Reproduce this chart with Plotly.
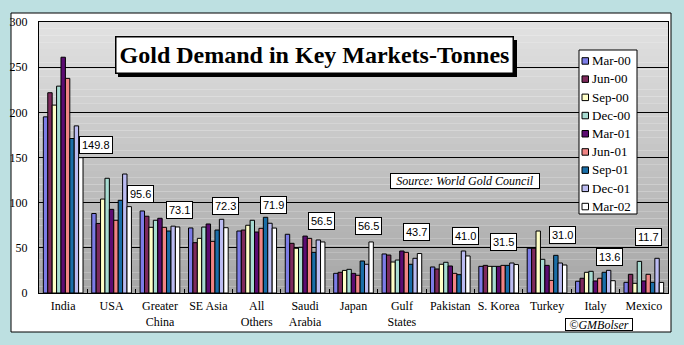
import plotly.graph_objects as go

categories = ["India", "USA", "Greater<br>China", "SE Asia", "All<br>Others", "Saudi<br>Arabia",
              "Japan", "Gulf<br>States", "Pakistan", "S. Korea", "Turkey", "Italy", "Mexico"]
quarters = ["Mar-00", "Jun-00", "Sep-00", "Dec-00", "Mar-01", "Jun-01", "Sep-01", "Dec-01", "Mar-02"]

mar00 = [195, 88, 90.8, 72, 68.6, 65, 21.8, 43.2, 28.8, 29.5, 49.5, 13, 11.8]
jun00 = [221.7, 77, 85, 55.7, 69.7, 55, 22.9, 42, 26.6, 30.6, 49.5, 16.3, 20.7]
sep00 = [208, 104, 72.7, 60.5, 75, 49.5, 25, 34.3, 31.8, 29.5, 68.6, 22.9, 10.7]
dec00 = [229, 127, 80.5, 73, 80.5, 50.6, 26.2, 36.5, 34, 29.5, 37.3, 24, 35]
mar01 = [261, 92.6, 82.7, 76.4, 67.5, 63, 21.8, 46.5, 29.9, 29.5, 30.6, 13.3, 13.3]
jun01 = [237.6, 80.5, 72.7, 57.2, 71.6, 60.5, 19.6, 45, 21.8, 30.6, 14, 16.3, 20.7]
sep01 = [171, 102.6, 68.6, 69.7, 83.8, 45, 35.4, 31.8, 20.3, 30.6, 41.7, 22.9, 11.8]
dec01 = [185, 131.7, 74, 81.6, 77.2, 58.7, 31.8, 38.4, 46.5, 33.2, 33.2, 25.1, 38.4]
mar02 = [149.8, 95.6, 73.1, 72.3, 71.9, 56.5, 56.5, 43.7, 41.0, 31.5, 31.0, 13.6, 11.7]

series = [mar00, jun00, sep00, dec00, mar01, jun01, sep01, dec01, mar02]

# styles (not data)
colors = ["#7c7ce6", "#7e2a5c", "#ffffc8", "#a8dcd2", "#5c0c72", "#f08484", "#1a6ea8", "#bcbcf2", "#ffffff"]
label_offsets = [(33, 13), (29, 13), (19.5, 16.5), (17.5, 22), (17, 23), (16, 21), (14.5, 16),
                 (14.5, 22), (15.5, 20), (5, 22.5), (15, 30), (14.5, 24), (5, 45)]

W, H = 684, 345
PL, PR, PT, PB = 39, 668, 22, 293


def px(x):
    return (x - PL) / (PR - PL)


def py(y):
    return (PB - y) / (PB - PT)


fig = go.Figure()
for name, vals, col in zip(quarters, series, colors):
    fig.add_trace(go.Bar(x=categories, y=vals, name=name,
                         marker=dict(color=col, line=dict(color="black", width=1)),
                         showlegend=False, hoverinfo="x+y+name"))

shapes = []
# white frame
shapes.append(dict(type="rect", xref="paper", yref="paper", x0=px(11), x1=px(671), y0=py(13), y1=py(332),
                   fillcolor="white", line=dict(color="black", width=1), layer="below"))
# gradient plot background
N = 40
top = (226, 226, 226)
bot = (166, 166, 166)
for i in range(N):
    t = (i + 0.5) / N
    c = tuple(int(round(top[k] + (bot[k] - top[k]) * t)) for k in range(3))
    shapes.append(dict(type="rect", xref="paper", yref="paper", x0=0, x1=1,
                       y0=1 - (i + 1) / N, y1=1 - i / N,
                       fillcolor="rgb(%d,%d,%d)" % c, line=dict(width=0), layer="below"))
# title shadow
shapes.append(dict(type="rect", xref="paper", yref="paper", x0=px(118), x1=px(517), y0=py(40), y1=py(77),
                   fillcolor="black", line=dict(width=0), layer="above"))
# legend box
shapes.append(dict(type="rect", xref="paper", yref="paper", x0=px(579), x1=px(637), y0=py(50), y1=py(214),
                   fillcolor="white", line=dict(color="black", width=1), layer="above"))
leg_y0, leg_dy = 60.7, 18.2
for i, (name, col) in enumerate(zip(quarters, colors)):
    cy = leg_y0 + i * leg_dy
    shapes.append(dict(type="rect", xref="paper", yref="paper", x0=px(582), x1=px(588.5),
                       y0=py(cy + 3.5), y1=py(cy - 3), fillcolor=col,
                       line=dict(color="black", width=1), layer="above"))

annotations = []
annotations.append(dict(text="<b>Gold Demand in Key Markets-Tonnes</b>", xref="paper", yref="paper",
                        x=px(314), y=py(55), xanchor="center", yanchor="middle", showarrow=False,
                        font=dict(family="Liberation Serif", size=24, color="black"),
                        bgcolor="white", bordercolor="black", borderwidth=1.5, borderpad=1,
                        width=394, height=33))
for i, (name, col) in enumerate(zip(quarters, colors)):
    cy = leg_y0 + i * leg_dy
    annotations.append(dict(text=name, xref="paper", yref="paper", x=px(590), y=py(cy),
                            xanchor="left", yanchor="middle", showarrow=False,
                            font=dict(family="Liberation Serif", size=13, color="black")))
for cat, v, (dx, dy) in zip(categories, mar02, label_offsets):
    annotations.append(dict(text="%.1f" % v, x=cat, y=v, xref="x", yref="y", xshift=dx, yshift=dy,
                            xanchor="center", yanchor="middle", showarrow=False,
                            font=dict(family="Liberation Sans", size=11, color="black"),
                            bgcolor="white", bordercolor="black", borderwidth=1, borderpad=2))
annotations.append(dict(text="<i>Source: World Gold Council</i>", xref="paper", yref="paper",
                        x=px(465), y=py(181), xanchor="center", yanchor="middle", showarrow=False,
                        font=dict(family="Liberation Serif", size=12, color="black"),
                        bgcolor="white", bordercolor="black", borderwidth=1, borderpad=0, width=148))
annotations.append(dict(text="<i>©GMBolser</i>", xref="paper", yref="paper",
                        x=px(598.5), y=py(324), xanchor="center", yanchor="middle", showarrow=False,
                        font=dict(family="Liberation Serif", size=12, color="black"),
                        bgcolor="white", bordercolor="black", borderwidth=1, borderpad=0, width=66,
                        height=11))

fig.update_layout(
    width=W, height=H,
    margin=dict(l=PL, r=W - PR, t=PT, b=H - PB, pad=0),
    paper_bgcolor="#bde0e1",
    plot_bgcolor="rgba(0,0,0,0)",
    barmode="group", bargap=0.18, bargroupgap=0,
    shapes=shapes, annotations=annotations,
    showlegend=False,
    font=dict(family="Liberation Serif", size=12, color="black"),
    xaxis=dict(showline=True, linecolor="black", linewidth=1, mirror=True,
               ticks="inside", tickson="boundaries", ticklen=4, tickcolor="black",
               tickangle=0, automargin=False, ticklabelstandoff=2,
               tickfont=dict(family="Liberation Serif", size=12, color="black"),
               showgrid=False, fixedrange=True),
    yaxis=dict(range=[0, 300], dtick=50, showline=True, linecolor="black", linewidth=1, mirror=True,
               showgrid=True, gridcolor="black", gridwidth=1, zeroline=False,
               ticks="", ticklabelstandoff=8, automargin=False,
               tickfont=dict(family="Liberation Serif", size=12, color="black"), fixedrange=True),
)

fig.write_html("out.html")
